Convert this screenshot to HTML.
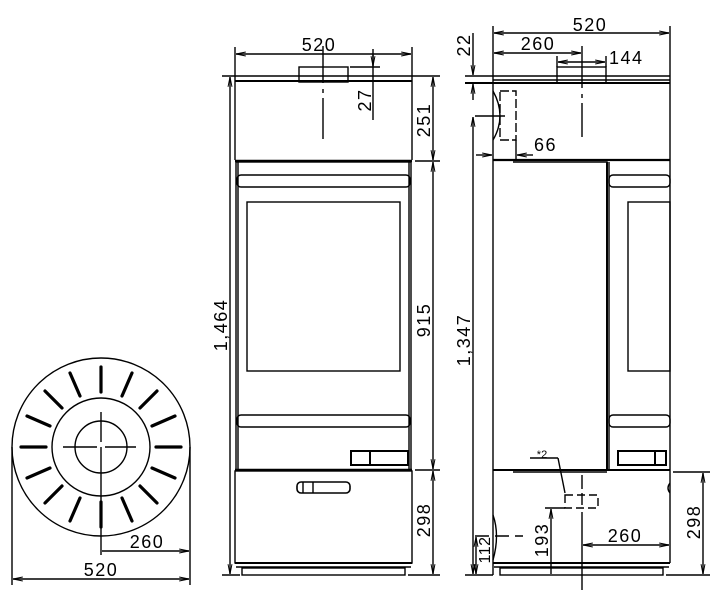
<!DOCTYPE html>
<html><head><meta charset="utf-8"><style>
html,body{margin:0;padding:0;background:#fff}
svg{display:block}
text{font-family:"Liberation Sans",sans-serif;font-size:18px;letter-spacing:1.5px;fill:#000;text-anchor:middle}
</style></head><body>
<svg width="720" height="605" viewBox="0 0 720 605" xmlns="http://www.w3.org/2000/svg">
<defs>
<marker id="a" viewBox="0 0 10 10" refX="10" refY="5" markerWidth="7" markerHeight="7" orient="auto-start-reverse"><path d="M0,3 L10,5 L0,7" fill="none" stroke="#000" stroke-width="1"/></marker>
</defs>
<g fill="none" stroke="#000" stroke-width="1.4">
<!-- ===== FRONT VIEW ===== -->
<line x1="222" y1="76" x2="440" y2="76"/>
<line x1="235" y1="81" x2="412" y2="81" stroke-width="2"/>
<rect x="299" y="67" width="49" height="15"/>
<line x1="235" y1="47" x2="235" y2="160"/>
<line x1="412" y1="47" x2="412" y2="160"/>
<line x1="236" y1="54" x2="411" y2="54" marker-start="url(#a)" marker-end="url(#a)"/>
<line x1="323" y1="46" x2="323" y2="83"/>
<line x1="323" y1="89" x2="323" y2="93"/>
<line x1="323" y1="98" x2="323" y2="139"/>
<line x1="350" y1="67" x2="380" y2="67"/>
<line x1="373" y1="49" x2="373" y2="120"/>
<line x1="373" y1="55" x2="373" y2="66" marker-end="url(#a)"/>
<line x1="235" y1="161" x2="412" y2="161" stroke-width="2.4"/>
<line x1="415" y1="161" x2="440" y2="161"/>
<line x1="433" y1="77" x2="433" y2="160" marker-start="url(#a)" marker-end="url(#a)"/>
<line x1="433" y1="162" x2="433" y2="469" marker-start="url(#a)" marker-end="url(#a)"/>
<line x1="433" y1="471" x2="433" y2="574" marker-start="url(#a)" marker-end="url(#a)"/>
<line x1="415" y1="470" x2="440" y2="470"/>
<line x1="408" y1="575" x2="440" y2="575"/>
<line x1="222" y1="575" x2="240" y2="575"/>
<line x1="230" y1="77" x2="230" y2="574" marker-start="url(#a)" marker-end="url(#a)"/>
<rect x="236" y="162" width="175" height="308"/>
<line x1="238" y1="162" x2="238" y2="470"/>
<line x1="409" y1="162" x2="409" y2="470"/>
<rect x="237" y="175" width="173" height="12" rx="4"/>
<rect x="247" y="202" width="153" height="169"/>
<rect x="237" y="415" width="173" height="12" rx="4"/>
<rect x="351" y="451" width="57" height="14" stroke-width="2"/>
<line x1="370" y1="451" x2="370" y2="465" stroke-width="2"/>
<line x1="235" y1="470" x2="412" y2="470" stroke-width="2.4"/>
<rect x="235" y="471" width="177" height="92"/>
<rect x="297" y="482" width="53" height="11" rx="4" stroke-width="1.6"/>
<line x1="303" y1="482" x2="303" y2="493"/>
<line x1="313" y1="482" x2="313" y2="493"/>
<line x1="235" y1="563" x2="412" y2="563" stroke-width="2"/>
<line x1="236" y1="567" x2="411" y2="567"/>
<rect x="242" y="568" width="163" height="7"/>
<!-- ===== SIDE VIEW ===== -->
<line x1="493" y1="26" x2="493" y2="575"/>
<line x1="670" y1="26" x2="670" y2="563"/>
<line x1="494" y1="33" x2="669" y2="33" marker-start="url(#a)" marker-end="url(#a)"/>
<line x1="494" y1="53" x2="581" y2="53" marker-start="url(#a)" marker-end="url(#a)"/>
<line x1="557" y1="56" x2="557" y2="67"/>
<line x1="606" y1="56" x2="606" y2="67"/>
<line x1="558" y1="62" x2="605" y2="62" marker-start="url(#a)" marker-end="url(#a)"/>
<rect x="557" y="67" width="49" height="16"/>
<line x1="582" y1="46" x2="582" y2="88"/>
<line x1="582" y1="94" x2="582" y2="98"/>
<line x1="582" y1="103" x2="582" y2="137"/>
<line x1="465" y1="76" x2="670" y2="76"/>
<line x1="493" y1="80" x2="670" y2="80"/>
<line x1="465" y1="83" x2="670" y2="83" stroke-width="2"/>
<line x1="473" y1="33" x2="473" y2="75" marker-end="url(#a)"/>
<line x1="473" y1="100" x2="473" y2="84" marker-end="url(#a)"/>
<rect x="500" y="91" width="16" height="49" stroke-dasharray="9,3"/>
<path d="M493,91 Q507,116 493,140"/>
<line x1="475" y1="116" x2="505" y2="116"/>
<line x1="473" y1="117" x2="473" y2="574" marker-start="url(#a)" marker-end="url(#a)"/>
<line x1="516" y1="140" x2="516" y2="160"/>
<line x1="476" y1="155" x2="492" y2="155" marker-end="url(#a)"/>
<line x1="533" y1="155" x2="517" y2="155" marker-end="url(#a)"/>
<line x1="493" y1="160" x2="670" y2="160" stroke-width="2.2"/>
<path d="M513,162 L607,162 L607,470"/>
<line x1="607" y1="162" x2="607" y2="470" stroke-width="2"/>
<rect x="609" y="175" width="61" height="12" rx="4"/>
<line x1="609" y1="162" x2="609" y2="470"/>
<rect x="628" y="202" width="42" height="169"/>
<rect x="609" y="415" width="61" height="12" rx="4"/>
<rect x="618" y="451" width="48" height="14" stroke-width="2"/>
<line x1="655" y1="451" x2="655" y2="465" stroke-width="2"/>
<line x1="493" y1="470" x2="670" y2="470" stroke-width="2"/>
<line x1="513" y1="472" x2="607" y2="472"/>
<path d="M670,483 Q666,488 670,493"/>
<line x1="493" y1="563" x2="670" y2="563" stroke-width="2"/>
<line x1="494" y1="567" x2="669" y2="567"/>
<rect x="500" y="568" width="163" height="7"/>
<path d="M493,515 Q500,535 493,560"/>
<line x1="530" y1="458" x2="558" y2="458"/>
<line x1="558" y1="458" x2="565" y2="493"/>
<rect x="565" y="495" width="33" height="13" stroke-dasharray="8,4"/>
<line x1="582" y1="475" x2="582" y2="505" stroke-dasharray="14,4"/>
<line x1="582" y1="512" x2="582" y2="590"/>
<line x1="545" y1="508" x2="565" y2="508"/>
<line x1="551" y1="509" x2="551" y2="574" marker-start="url(#a)"/>
<line x1="583" y1="545" x2="669" y2="545" marker-start="url(#a)" marker-end="url(#a)"/>
<line x1="673" y1="472" x2="710" y2="472"/>
<line x1="666" y1="575" x2="710" y2="575"/>
<line x1="703" y1="473" x2="703" y2="574" marker-start="url(#a)" marker-end="url(#a)"/>
<line x1="465" y1="575" x2="493" y2="575"/>
<line x1="475" y1="536" x2="523" y2="536" stroke-dasharray="14,6"/>
<line x1="476" y1="537" x2="476" y2="574" marker-start="url(#a)" marker-end="url(#a)"/>
<!-- ===== PLAN ===== -->
<circle cx="101" cy="447" r="89"/>
<circle cx="101" cy="447" r="49"/>
<circle cx="101" cy="447" r="26"/>
<line x1="63" y1="447" x2="97" y2="447"/>
<line x1="105" y1="447" x2="136" y2="447"/>
<line x1="101" y1="412" x2="101" y2="442"/>
<line x1="101" y1="447" x2="101" y2="555"/>
<line x1="12" y1="447" x2="12" y2="585"/>
<line x1="190" y1="447" x2="190" y2="585"/>
<line x1="102" y1="551" x2="189" y2="551" marker-end="url(#a)"/>
<line x1="13" y1="579" x2="189" y2="579" marker-start="url(#a)" marker-end="url(#a)"/>
</g>
<g stroke="#000" stroke-width="3.2" stroke-linecap="round">
<line x1="101" y1="392" x2="101" y2="367"/>
<line x1="122" y1="396" x2="132" y2="373"/>
<line x1="140" y1="408" x2="157" y2="391"/>
<line x1="152" y1="426" x2="175" y2="416"/>
<line x1="156" y1="447" x2="181" y2="447"/>
<line x1="152" y1="468" x2="175" y2="478"/>
<line x1="140" y1="486" x2="157" y2="503"/>
<line x1="122" y1="498" x2="132" y2="521"/>
<line x1="101" y1="502" x2="101" y2="527"/>
<line x1="80" y1="498" x2="70" y2="521"/>
<line x1="62" y1="486" x2="45" y2="503"/>
<line x1="50" y1="468" x2="27" y2="478"/>
<line x1="46" y1="447" x2="21" y2="447"/>
<line x1="50" y1="426" x2="27" y2="416"/>
<line x1="62" y1="408" x2="45" y2="391"/>
<line x1="80" y1="396" x2="70" y2="373"/>
</g>
<text x="319" y="51">520</text>
<text x="590" y="31">520</text>
<text x="538" y="50">260</text>
<text x="609" y="64" style="text-anchor:start">144</text>
<text x="534" y="151" style="text-anchor:start">66</text>
<text x="542" y="458" style="font-size:11px;letter-spacing:0">*2</text>
<text x="625" y="542">260</text>
<text x="147" y="548">260</text>
<text x="101" y="576">520</text>
<text transform="translate(371,100) rotate(-90)">27</text>
<text transform="translate(430,120) rotate(-90)">251</text>
<text transform="translate(430,320) rotate(-90)">915</text>
<text transform="translate(430,520) rotate(-90)">298</text>
<text transform="translate(227,325) rotate(-90)">1,464</text>
<text transform="translate(470,340) rotate(-90)">1,347</text>
<text transform="translate(470,45) rotate(-90)">22</text>
<text transform="translate(548,540) rotate(-90)">193</text>
<text transform="translate(490,550) rotate(-90)" style="font-size:16px;letter-spacing:0.5px">112</text>
<text transform="translate(700,522) rotate(-90)">298</text>
</svg>
</body></html>
